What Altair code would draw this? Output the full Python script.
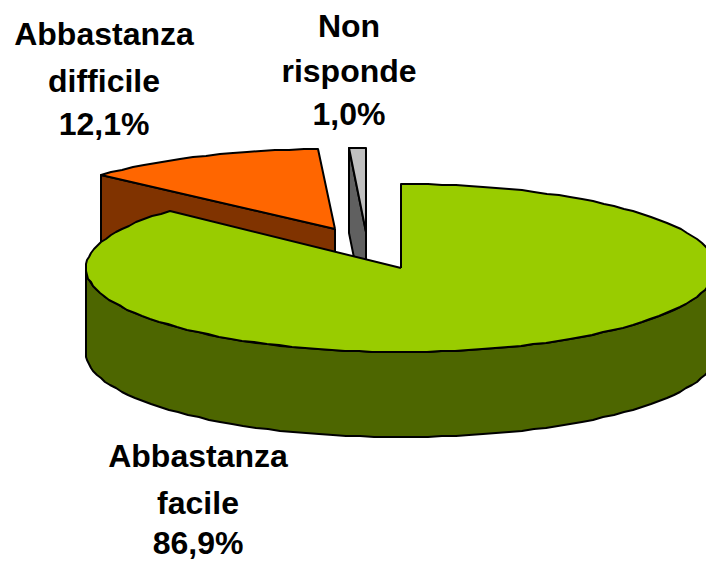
import math
import altair as alt
import pandas as pd

# Values as labelled in the chart
labels = [["Abbastanza", "facile", "86,9%"], ["Abbastanza", "difficile", "12,1%"], ["Non", "risponde", "1,0%"]]
# Slice sizes (labels are rounded)
shares = [86.9, 12.25, 0.85]
top_colors = ["#99CC00", "#FF6600", "#C0C0C0"]
side_colors = ["#4D6600", "#803300", "#606060"]

# Pie geometry (chart frame, pixels of the picture)
centers = [(401, 268), (335, 229), (366, 232)]
radii_x = [315, 319, 315]
radii_y = [84, 80, 84]
DEPTH = 85
label_x = [198, 104, 349]
label_y = [[467, 514, 554], [45, 92, 135], [37, 82, 125]]

W, H = 698, 554
X = alt.X("x:Q", scale=alt.Scale(domain=[8, 706], nice=False, zero=False), axis=None)
Y = alt.Y("y:Q", scale=alt.Scale(domain=[562, 8], nice=False, zero=False), axis=None)


def pt(i, deg, dz=0):
    a = math.radians(deg)
    c = centers[i]
    return (round(c[0] + radii_x[i] * math.sin(a)), round(c[1] - radii_y[i] * math.cos(a)) + dz)


def arc(i, a0, a1, dz=0):
    n = max(2, int(abs(a1 - a0) / 2.5))
    return [pt(i, a0 + (a1 - a0) * k / n, dz) for k in range(n + 1)]


def poly(points, color):
    closed = list(points) + [points[0]]
    df = pd.DataFrame({"x": [p[0] for p in closed], "y": [p[1] for p in closed], "o": range(len(closed))})
    return alt.Chart(df).mark_line(fill=color, stroke="black", strokeWidth=2, strokeJoin="round",
                                   clip=False, interpolate="linear").encode(
        x=X, y=Y, order=alt.Order("o:Q"))


layers = []
spans = []
start = 0.0
for s in shares:
    spans.append((start, start + s * 3.6))
    start += s * 3.6

# exploded slices: cut face first, then the top
for i in (2, 1):
    c = centers[i]
    a0, a1 = spans[i]
    e = pt(i, a0)
    layers.append(poly([c, e, (e[0], e[1] + DEPTH), (c[0], c[1] + DEPTH)], side_colors[i]))
    layers.append(poly([c] + arc(i, a0, a1), top_colors[i]))

# main slice: outer wall, then the top
a0, a1 = spans[0]
layers.append(poly(arc(0, 90, 270) + arc(0, 270, 90, DEPTH), side_colors[0]))
layers.append(poly([centers[0]] + arc(0, a0, a1), top_colors[0]))

rows = []
for lines, x, ys in zip(labels, label_x, label_y):
    for t, y in zip(lines, ys):
        rows.append({"x": x, "y": y, "t": t})
text = alt.Chart(pd.DataFrame(rows)).mark_text(
    font="Liberation Sans", fontWeight="bold", fontSize=32, color="black",
    align="center", baseline="alphabetic", clip=False).encode(x=X, y=Y, text="t:N")
layers.append(text)

chart = alt.layer(*layers).properties(
    width=W, height=H, padding=0, background="white",
    autosize=alt.AutoSizeParams(type="none")
).configure_view(stroke=None)
chart.save("out.html", embed_options={"renderer": "svg", "actions": False})
